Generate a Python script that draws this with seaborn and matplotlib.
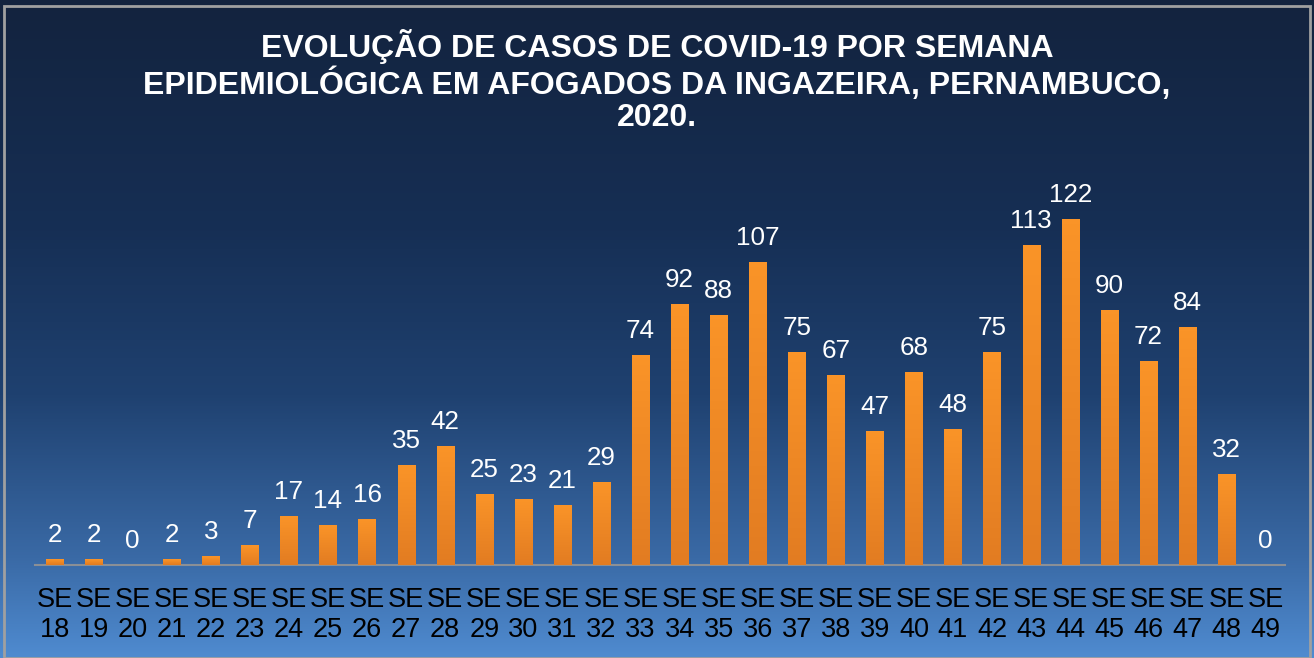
import numpy as np
import pandas as pd
import matplotlib
matplotlib.use("Agg")
import matplotlib.pyplot as plt
from matplotlib.colors import LinearSegmentedColormap
import seaborn as sns

weeks = [f"SE\n{n}" for n in range(18, 50)]
cases = [2, 2, 0, 2, 3, 7, 17, 14, 16, 35, 42, 25, 23, 21, 29, 74, 92, 88,
         107, 75, 67, 47, 68, 48, 75, 113, 122, 90, 72, 84, 32, 0]
title = ("EVOLUÇÃO DE CASOS DE COVID-19 POR SEMANA\n"
         "EPIDEMIOLÓGICA EM AFOGADOS DA INGAZEIRA, PERNAMBUCO,\n2020.")

sns.set_theme(style="white")
plt.rcParams['font.family'] = ['Liberation Sans', 'DejaVu Sans']

W, H = 1314, 658
fig = plt.figure(figsize=(W / 100, H / 100), dpi=100)

# background gradient
bg = fig.add_axes([0, 0, 1, 1], zorder=-10)
bg_cmap = LinearSegmentedColormap.from_list(
    "bg", [(0.0, "#13233e"), (0.35, "#162f55"), (0.6, "#1f4170"),
           (0.85, "#3a6aa6"), (1.0, "#4f8bd0")])
grad = np.linspace(0, 1, 256).reshape(-1, 1)
bg.imshow(grad, aspect="auto", cmap=bg_cmap, extent=[0, 1, 0, 1], origin="upper")
bg.set_axis_off()
fig.patches.append(plt.Rectangle((4 / W, 0), 1 - 8 / W, 1 - 6 / H, transform=fig.transFigure,
                                 fill=False, edgecolor="#a0a0a0", linewidth=2, zorder=-5))

left, right = 35 / W, 1285 / W
bottom = 93 / H
top_px = 150
ax = fig.add_axes([left, bottom, right - left, (H - top_px) / H - bottom])
ax.patch.set_alpha(0)

df = pd.DataFrame({"week": weeks, "cases": cases})
sns.barplot(data=df, x="week", y="cases", ax=ax, color="#f68d22", width=0.44,
            saturation=1, edgecolor="none")
ymax = (565 - top_px) / 2.83

bar_cmap = LinearSegmentedColormap.from_list("bar", ["#fa9428", "#e27c22"])
for p in ax.patches:
    x0, w, h = p.get_x(), p.get_width(), p.get_height()
    if h <= 0:
        continue
    p.set_alpha(0)
    ax.imshow(np.linspace(0, 1, 64).reshape(-1, 1), cmap=bar_cmap, aspect="auto",
              extent=[x0, x0 + w, 0, h], origin="upper", zorder=3)
ax.set_xlim(-0.5, len(weeks) - 0.5)
ax.set_ylim(0, ymax)

for i, v in enumerate(cases):
    ax.annotate(str(v), (i, v), xytext=(0, 9), textcoords="offset points",
                ha="center", va="bottom", color="white", fontsize=18.7)

ax.set_xlabel("")
ax.set_ylabel("")
ax.set_yticks([])
ax.tick_params(axis="x", length=0, pad=16, labelsize=19.5, labelcolor="black")
for lab in ax.get_xticklabels():
    lab.set_linespacing(1.17)
for s in ["top", "right", "left"]:
    ax.spines[s].set_visible(False)
ax.spines["bottom"].set_color("#8a8f96")
ax.spines["bottom"].set_linewidth(1.5)

fig.text(0.5, 1 - 29 / H, title, ha="center", va="top", color="white",
         fontsize=23, fontweight="bold", linespacing=1.12)

fig.savefig("out.png", dpi=100)
